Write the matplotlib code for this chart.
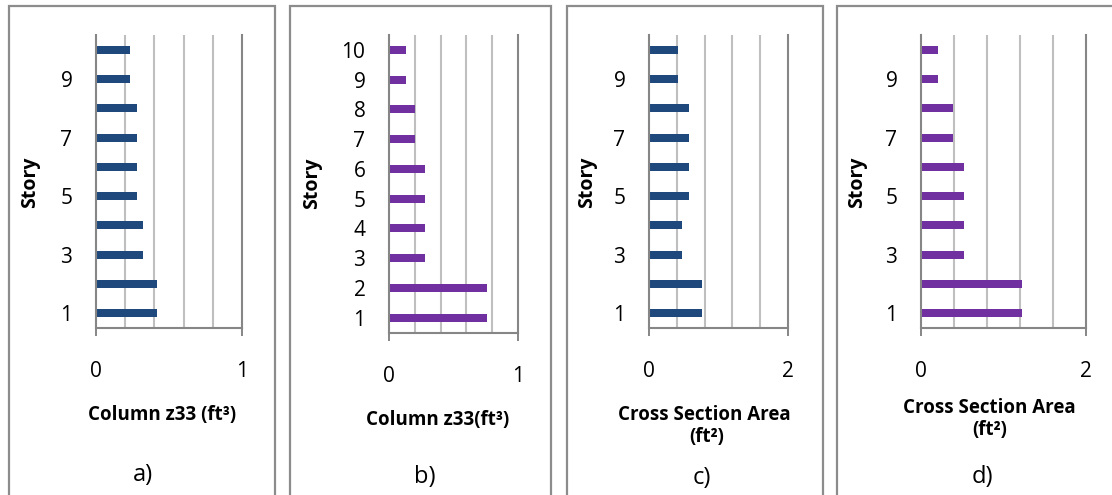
import matplotlib.pyplot as plt
import matplotlib.patches as patches
import numpy as np

plt.rcParams['font.family'] = ['Open Sans', 'DejaVu Sans']

# data
stories = [1, 2, 3, 4, 5, 6, 7, 8, 9, 10]
z33_a = [0.42, 0.42, 0.32, 0.32, 0.28, 0.28, 0.28, 0.28, 0.23, 0.23]
z33_b = [0.76, 0.76, 0.28, 0.28, 0.28, 0.28, 0.20, 0.20, 0.13, 0.13]
area_c = [0.76, 0.76, 0.47, 0.47, 0.57, 0.57, 0.57, 0.57, 0.42, 0.42]
area_d = [1.23, 1.23, 0.52, 0.52, 0.52, 0.52, 0.39, 0.39, 0.21, 0.21]

W, H = 1112, 495
fig = plt.figure(figsize=(W / 100, H / 100), dpi=100)


def px(x, y):
    return x / W, 1 - y / H


def box(l, r, t, b):
    x0, y0 = px(l, b)
    x1, y1 = px(r, t)
    return [x0, y0, x1 - x0, y1 - y0]


panels = [
    # values, color, xmax, grid step, ytick labels, axes box, border, xlabel lines, ylabel pos, sub label
    (z33_a, '#1F497D', 1, 0.2, [1, 3, 5, 7, 9], (96, 242, 35, 328), (9, 275),
     [('Column z33 (ft³)', 162, 415)], (30, 182), ('a)', 143, 475)),
    (z33_b, '#7030A0', 1, 0.2, stories, (389, 518, 35, 332.5), (290, 551),
     [('Column z33(ft³)', 438, 420)], (312, 183), ('b)', 425, 477)),
    (area_c, '#1F497D', 2, 0.4, [1, 3, 5, 7, 9], (649, 788, 35, 328), (567, 823),
     [('Cross Section Area', 704, 415), ('(ft²)', 707, 437)], (587, 182), ('c)', 702, 478)),
    (area_d, '#7030A0', 2, 0.4, [1, 3, 5, 7, 9], (921, 1086, 35, 328), (837, 1130),
     [('Cross Section Area', 989, 408), ('(ft²)', 990, 430)], (857, 182), ('d)', 982, 477)),
]

for vals, color, xmax, step, yt, ab, border, xlab, ylab, sub in panels:
    # panel frame
    bx0, by0 = px(border[0], 510)
    bx1, by1 = px(border[1], 6)
    fig.patches.append(patches.Rectangle((bx0, by0), bx1 - bx0, by1 - by0,
                                         transform=fig.transFigure, fill=False,
                                         edgecolor='#8C8C8C', linewidth=1.6,
                                         clip_on=False))

    ax = fig.add_axes(box(*ab))
    ax.barh(stories, vals, height=0.27, color=color, zorder=3)
    ax.set_xlim(0, xmax)
    ax.set_ylim(0.5, 10.5)
    for g in np.arange(step, xmax - 1e-9, step):
        ax.axvline(g, color='#BFBFBF', linewidth=1.5, zorder=1)
    ax.set_xticks([0, xmax])
    ax.set_xticklabels(['0', str(xmax)])
    ax.set_yticks(yt)
    ax.set_yticklabels([str(v) for v in yt])
    ax.tick_params(axis='x', length=6, width=1.4, color='#868686', pad=18,
                   labelsize=15)
    ax.tick_params(axis='y', length=0, pad=17, labelsize=15)
    ax.spines['top'].set_visible(False)
    for s in ['left', 'bottom', 'right']:
        ax.spines[s].set_color('#868686')
        ax.spines[s].set_linewidth(1.5)
        ax.spines[s].set_zorder(4)

    for txt, x, y in xlab:
        fx, fy = px(x, y)
        fig.text(fx, fy, txt, ha='center', va='center', fontsize=13.5,
                 fontweight='bold')
    fx, fy = px(*ylab)
    fig.text(fx, fy, 'Story', ha='center', va='center', rotation=90,
             fontsize=14, fontweight='bold')
    fx, fy = px(sub[1], sub[2])
    fig.text(fx, fy, sub[0], ha='center', va='center', fontsize=17)

fig.savefig('out.png', dpi=100)
